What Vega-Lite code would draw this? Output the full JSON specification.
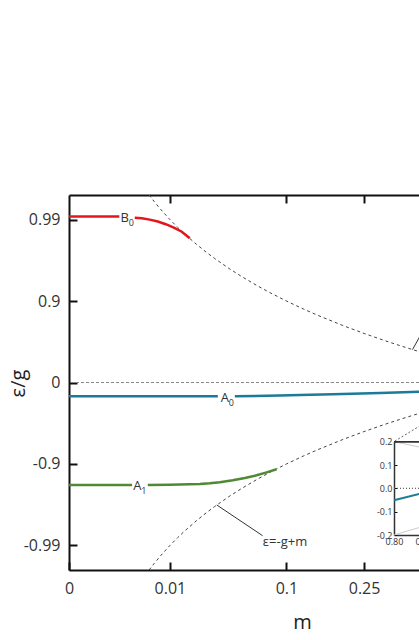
{
  "$schema": "https://vega.github.io/schema/vega-lite/v6.json",
  "width": 350,
  "height": 375,
  "autosize": {"type": "none"},
  "padding": {"left": 69, "top": 195, "right": 0, "bottom": 70},
  "background": "white",
  "config": {
    "view": {"stroke": null},
    "font": "Open Sans",
    "axis": {
      "domainColor": "#111", "domainWidth": 2, "tickColor": "#111", "tickWidth": 2, "tickSize": -8,
      "labelFont": "Open Sans", "labelFontSize": 16, "labelColor": "#333",
      "titleFont": "Open Sans", "titleColor": "#222", "titleFontWeight": "normal", "grid": false
    },
    "text": {"font": "Open Sans"}
  },
  "datasets": {
    "curves": [
      {"series": "B0", "seg": "a", "m": 0, "y": 2.037},
      {"series": "B0", "seg": "a", "m": 0.00124, "y": 2.037},
      {"series": "B0", "seg": "b", "m": 0.002767, "y": 2.0223},
      {"series": "B0", "seg": "b", "m": 0.003748, "y": 2.0150},
      {"series": "B0", "seg": "b", "m": 0.005127, "y": 1.9990},
      {"series": "B0", "seg": "b", "m": 0.006808, "y": 1.9757},
      {"series": "B0", "seg": "b", "m": 0.008821, "y": 1.9426},
      {"series": "B0", "seg": "b", "m": 0.011197, "y": 1.9008},
      {"series": "B0", "seg": "b", "m": 0.013964, "y": 1.8505},
      {"series": "B0", "seg": "b", "m": 0.017155, "y": 1.7700},
      {"series": "A0", "seg": "a", "m": 0, "y": -0.169},
      {"series": "A0", "seg": "a", "m": 0.0321, "y": -0.169},
      {"series": "A0", "seg": "b", "m": 0.0444, "y": -0.169},
      {"series": "A0", "seg": "b", "m": 0.0912, "y": -0.160},
      {"series": "A0", "seg": "b", "m": 0.1198, "y": -0.153},
      {"series": "A0", "seg": "b", "m": 0.1789, "y": -0.144},
      {"series": "A0", "seg": "b", "m": 0.2926, "y": -0.129},
      {"series": "A0", "seg": "b", "m": 0.4172, "y": -0.114},
      {"series": "A0", "seg": "b", "m": 0.45, "y": -0.110},
      {"series": "A1", "seg": "a", "m": 0, "y": -1.258},
      {"series": "A1", "seg": "a", "m": 0.00244, "y": -1.258},
      {"series": "A1", "seg": "b", "m": 0.00476, "y": -1.258},
      {"series": "A1", "seg": "b", "m": 0.009962, "y": -1.2554},
      {"series": "A1", "seg": "b", "m": 0.017155, "y": -1.2492},
      {"series": "A1", "seg": "b", "m": 0.021781, "y": -1.2456},
      {"series": "A1", "seg": "b", "m": 0.027173, "y": -1.2370},
      {"series": "A1", "seg": "b", "m": 0.033389, "y": -1.2247},
      {"series": "A1", "seg": "b", "m": 0.042797, "y": -1.2001},
      {"series": "A1", "seg": "b", "m": 0.052916, "y": -1.1719},
      {"series": "A1", "seg": "b", "m": 0.064206, "y": -1.1388},
      {"series": "A1", "seg": "b", "m": 0.074245, "y": -1.1057},
      {"series": "A1", "seg": "b", "m": 0.087030, "y": -1.0652}
    ],
    "dashed": [
      {"branch": "upper", "m": 0.005, "y": 2.301}, {"branch": "upper", "m": 0.006, "y": 2.222},
      {"branch": "upper", "m": 0.0075, "y": 2.125}, {"branch": "upper", "m": 0.01, "y": 2.0},
      {"branch": "upper", "m": 0.0125, "y": 1.903}, {"branch": "upper", "m": 0.015, "y": 1.824},
      {"branch": "upper", "m": 0.02, "y": 1.699}, {"branch": "upper", "m": 0.025, "y": 1.602},
      {"branch": "upper", "m": 0.03, "y": 1.523}, {"branch": "upper", "m": 0.04, "y": 1.398},
      {"branch": "upper", "m": 0.05, "y": 1.301}, {"branch": "upper", "m": 0.065, "y": 1.187},
      {"branch": "upper", "m": 0.08, "y": 1.097}, {"branch": "upper", "m": 0.1, "y": 1.0},
      {"branch": "upper", "m": 0.125, "y": 0.903}, {"branch": "upper", "m": 0.15, "y": 0.824},
      {"branch": "upper", "m": 0.2, "y": 0.699}, {"branch": "upper", "m": 0.25, "y": 0.602},
      {"branch": "upper", "m": 0.3, "y": 0.523}, {"branch": "upper", "m": 0.35, "y": 0.456},
      {"branch": "upper", "m": 0.4, "y": 0.398}, {"branch": "upper", "m": 0.45, "y": 0.347},
      {"branch": "lower", "m": 0.005, "y": -2.301}, {"branch": "lower", "m": 0.006, "y": -2.222},
      {"branch": "lower", "m": 0.0075, "y": -2.125}, {"branch": "lower", "m": 0.01, "y": -2.0},
      {"branch": "lower", "m": 0.0125, "y": -1.903}, {"branch": "lower", "m": 0.015, "y": -1.824},
      {"branch": "lower", "m": 0.02, "y": -1.699}, {"branch": "lower", "m": 0.025, "y": -1.602},
      {"branch": "lower", "m": 0.03, "y": -1.523}, {"branch": "lower", "m": 0.04, "y": -1.398},
      {"branch": "lower", "m": 0.05, "y": -1.301}, {"branch": "lower", "m": 0.065, "y": -1.187},
      {"branch": "lower", "m": 0.08, "y": -1.097}, {"branch": "lower", "m": 0.1, "y": -1.0},
      {"branch": "lower", "m": 0.125, "y": -0.903}, {"branch": "lower", "m": 0.15, "y": -0.824},
      {"branch": "lower", "m": 0.2, "y": -0.699}, {"branch": "lower", "m": 0.25, "y": -0.602},
      {"branch": "lower", "m": 0.3, "y": -0.523}, {"branch": "lower", "m": 0.35, "y": -0.456},
      {"branch": "lower", "m": 0.4, "y": -0.398}, {"branch": "lower", "m": 0.45, "y": -0.347}
    ],
    "labels": [
      {"m": 0.001686, "y": 1.973, "t": "B", "s": "0"},
      {"m": 0.03683, "y": -0.2356, "t": "A", "s": "0"},
      {"m": 0.003094, "y": -1.319, "t": "A", "s": "1"}
    ],
    "eqlabel": [
      {"m": 0.0709, "y": -2.006, "t": "ε=-g+m"}
    ],
    "pointers": [
      {"id": "p1", "m": 0.0314, "y": -1.503},
      {"id": "p1", "m": 0.0706, "y": -1.880},
      {"id": "p2", "m": 0.3944, "y": 0.404},
      {"id": "p2", "m": 0.458, "y": 0.79}
    ],
    "connector": [
      {"id": "c", "m": 0.3364, "y": -0.720},
      {"id": "c", "m": 0.8, "y": 0.0969}
    ],
    "inset": [
      {"s": "gu", "m": 0.80, "e": 0.20},
      {"s": "gu", "m": 0.85, "e": 0.173},
      {"s": "gl", "m": 0.80, "e": -0.20},
      {"s": "gl", "m": 0.85, "e": -0.162}
    ],
    "insetblue": [
      {"m": 0.80, "e": -0.051},
      {"m": 0.85, "e": -0.019}
    ]
  },
  "layer": [
    {
      "layer": [
        {
          "data": {"name": "dashed"},
          "mark": {"type": "line", "color": "#444", "strokeDash": [3, 3], "strokeWidth": 1, "clip": true},
          "encoding": {
            "x": {"field": "m", "type": "quantitative",
                  "scale": {"type": "pow", "exponent": 0.3333333, "domain": [0, 0.4172], "nice": false, "zero": false},
                  "axis": {"orient": "bottom", "values": [0, 0.01, 0.1, 0.25], "format": "~g", "title": "m",
                           "titleX": 233, "titleY": 58, "titleBaseline": "alphabetic", "titleAlign": "center",
                           "titleFontSize": 20, "labelPadding": 18, "labelFlush": false}},
            "y": {"field": "y", "type": "quantitative",
                  "scale": {"domain": [-2.301, 2.301], "nice": false, "zero": false},
                  "axis": {"orient": "left", "values": [-2, -1, 0, 1, 2],
                           "labelExpr": "datum.value == 2 ? '0.99' : datum.value == 1 ? '0.9' : datum.value == 0 ? '0' : datum.value == -1 ? '-0.9' : '-0.99'",
                           "title": "ε/g", "titleX": -51, "titleY": 188, "titleAngle": -90, "titleBaseline": "middle",
                           "titleAlign": "center", "titleFontSize": 20, "labelPadding": 17}},
            "detail": {"field": "branch"}
          }
        },
        {
          "data": {"name": "dashed"},
          "mark": {"type": "rule", "color": "#888", "strokeDash": [3, 2], "strokeWidth": 1},
          "encoding": {"y": {"datum": 0, "type": "quantitative"}}
        },
        {
          "data": {"name": "curves"},
          "mark": {"type": "line", "strokeWidth": 2.5, "clip": true},
          "encoding": {
            "x": {"field": "m", "type": "quantitative"},
            "y": {"field": "y", "type": "quantitative"},
            "color": {"field": "series", "type": "nominal", "legend": null,
                      "scale": {"domain": ["B0", "A0", "A1"], "range": ["#e3161b", "#1b7b99", "#4f8a33"]}},
            "detail": {"field": "seg"}
          }
        },
        {
          "data": {"name": "pointers"},
          "mark": {"type": "line", "color": "#333", "strokeWidth": 1, "clip": true},
          "encoding": {
            "x": {"field": "m", "type": "quantitative"},
            "y": {"field": "y", "type": "quantitative"},
            "detail": {"field": "id"}
          }
        },
        {
          "data": {"name": "connector"},
          "mark": {"type": "line", "color": "#666", "strokeWidth": 1, "strokeDash": [2, 2], "clip": true},
          "encoding": {
            "x": {"field": "m", "type": "quantitative"},
            "y": {"field": "y", "type": "quantitative"}
          }
        },
        {
          "data": {"name": "labels"},
          "mark": {"type": "text", "fontSize": 13, "align": "center", "baseline": "alphabetic", "color": "#333"},
          "encoding": {
            "x": {"field": "m", "type": "quantitative"},
            "y": {"field": "y", "type": "quantitative"},
            "text": {"field": "t"}
          }
        },
        {
          "data": {"name": "labels"},
          "mark": {"type": "text", "fontSize": 9, "align": "center", "baseline": "alphabetic", "dx": 6.5, "dy": 4.5, "color": "#333"},
          "encoding": {
            "x": {"field": "m", "type": "quantitative"},
            "y": {"field": "y", "type": "quantitative"},
            "text": {"field": "s"}
          }
        },
        {
          "data": {"name": "eqlabel"},
          "mark": {"type": "text", "fontSize": 13, "align": "left", "baseline": "alphabetic", "color": "#333"},
          "encoding": {
            "x": {"field": "m", "type": "quantitative"},
            "y": {"field": "y", "type": "quantitative"},
            "text": {"field": "t"}
          }
        }
      ]
    },
    {
      "data": {"name": "labels"},
      "mark": {"type": "rule", "opacity": 0},
      "encoding": {
        "x": {"datum": 0.01, "type": "quantitative",
              "scale": {"type": "pow", "exponent": 0.3333333, "domain": [0, 0.4172], "nice": false, "zero": false},
              "axis": {"orient": "top", "values": [0.01, 0.1, 0.25], "labels": false, "title": null}}
      }
    },
    {
      "layer": [
        {
          "data": {"name": "inset"},
          "mark": {"type": "line", "color": "#cccccc", "strokeWidth": 1, "clip": true},
          "encoding": {
            "x": {"field": "m", "type": "quantitative",
                  "scale": {"domain": [0.8, 1.0], "range": [325, 445], "nice": false, "zero": false},
                  "axis": {"orient": "bottom", "offset": -35, "values": [0.8, 0.85, 0.9, 0.95, 1.0], "format": ".2f",
                           "title": null, "labelFontSize": 9, "labelPadding": 5, "tickSize": -3, "tickWidth": 1,
                           "domainWidth": 1.5, "domainColor": "#333", "labelFlush": false}},
            "y": {"field": "e", "type": "quantitative",
                  "scale": {"domain": [-0.2, 0.2], "range": [340, 246.7], "nice": false, "zero": false},
                  "axis": {"orient": "left", "offset": -325, "values": [-0.2, -0.1, 0, 0.1, 0.2],
                           "labelExpr": "(datum.value < 0 ? '-' : '') + format(abs(datum.value), '.1f')",
                           "title": null, "labelFontSize": 9, "labelPadding": 5, "tickSize": -3, "tickWidth": 1,
                           "domainWidth": 1.5, "domainColor": "#333", "labelFlush": false}},
            "detail": {"field": "s"}
          }
        },
        {
          "data": {"name": "insetblue"},
          "mark": {"type": "line", "color": "#1b7b99", "strokeWidth": 2, "clip": true},
          "encoding": {
            "x": {"field": "m", "type": "quantitative"},
            "y": {"field": "e", "type": "quantitative"}
          }
        },
        {
          "data": {"name": "insetblue"},
          "mark": {"type": "rule", "color": "#666", "strokeWidth": 1, "strokeDash": [1, 2], "clip": true},
          "encoding": {
            "x": {"datum": 0.8, "type": "quantitative"},
            "x2": {"datum": 1.0},
            "y": {"datum": 0, "type": "quantitative"}
          }
        },
        {
          "data": {"name": "insetblue"},
          "mark": {"type": "rule", "color": "#333", "strokeWidth": 1.5, "clip": true},
          "encoding": {
            "x": {"datum": 0.8, "type": "quantitative"},
            "x2": {"datum": 1.0},
            "y": {"datum": 0.2, "type": "quantitative"}
          }
        }
      ]
    }
  ],
  "resolve": {"scale": {"x": "independent", "y": "independent", "color": "independent"}}
}
